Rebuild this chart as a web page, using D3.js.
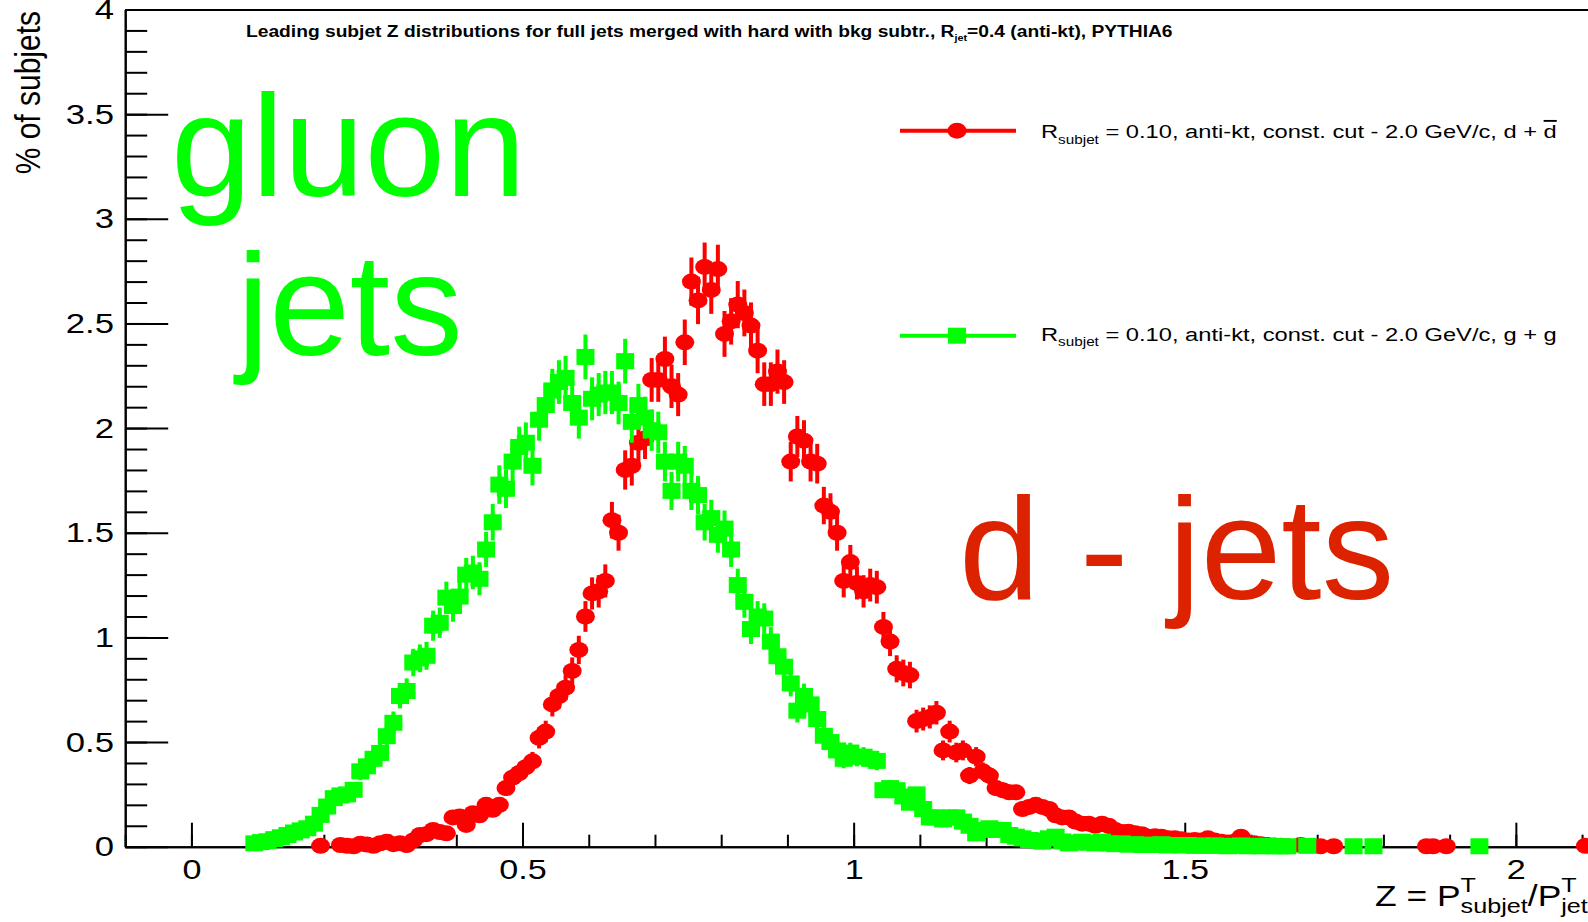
<!DOCTYPE html>
<html>
<head>
<meta charset="utf-8">
<script src="https://cdn.jsdelivr.net/npm/d3@7"></script>
<style>
  body { margin: 0; background: #fff; }
  svg { display: block; font-family: "Liberation Sans", Arial, sans-serif; }
  .axis path, .axis line { stroke: #000; stroke-width: 2; }
  .axis text { font-family: "Liberation Sans", Arial, sans-serif; fill: #000; }
</style>
</head>
<body>
<svg id="chart"></svg>
<script>
'use strict';

// histogram binning (bin width 0.01, values at bin centres)
var binWidth = 0.01;
var dFirst = 0.195;   // first bin of the d + dbar histogram
var gFirst = 0.095;   // first bin of the g + g histogram

// % of subjets per bin, d + dbar (red circles); null = empty bin
var dValues = [
  0.004, null, null, 0.008, 0.004, 0.002, 0.014, 0.010, 0.004, 0.016,
  0.024, 0.012, 0.016, 0.008, 0.030, 0.056, 0.060, 0.080, 0.070, 0.064,
  0.140, 0.144, 0.104, 0.160, 0.150, 0.200, 0.176, 0.200, 0.280, 0.330,
  0.352, 0.380, 0.408, 0.520, 0.550, 0.680, 0.720, 0.760, 0.840, 0.940,
  1.100, 1.210, 1.220, 1.270, 1.560, 1.500, 1.800, 1.820, 1.930, 1.950,
  2.230, 2.230, 2.330, 2.200, 2.160, 2.410, 2.700, 2.610, 2.770, 2.660,
  2.760, 2.450, 2.510, 2.590, 2.550, 2.490, 2.370, 2.210, 2.210, 2.270,
  2.220, 1.840, 1.960, 1.940, 1.840, 1.830, 1.630, 1.600, 1.500, 1.270,
  1.360, 1.260, 1.220, 1.250, 1.240, 1.050, 0.980, 0.850, 0.830, 0.820,
  0.600, 0.610, 0.620, 0.640, 0.460, 0.550, 0.450, 0.460, 0.340, 0.430,
  0.360, 0.340, 0.280, 0.270, 0.260, 0.260, 0.180, 0.190, 0.200, 0.190,
  0.180, 0.150, 0.140, 0.140, 0.120, 0.110, 0.110, 0.100, 0.110, 0.100,
  0.080, 0.070, 0.072, 0.064, 0.060, 0.048, 0.050, 0.048, 0.040, 0.040,
  0.035, 0.030, 0.032, 0.030, 0.040, 0.030, 0.024, 0.020, 0.024, 0.048,
  0.020, 0.016, 0.012, 0.008, 0.006, 0.004, 0.002, null, 0.008, null,
  null, 0.002, null, 0.002, null, null, null, null, null, null,
  null, null, null, null, null, null, null, 0.002, 0.002, null,
  0.002, null, null, null, null, null, null, null, null, null,
  null, null, null, null, null, null, null, null, null, null,
  null, 0.004
];

// % of subjets per bin, g + g (green squares); null = empty bin
var gValues = [
  0.016, 0.022, 0.026, 0.036, 0.045, 0.056, 0.068, 0.078, 0.088, 0.110,
  0.152, 0.192, 0.232, 0.245, 0.250, 0.272, 0.360, 0.384, 0.420, 0.448,
  0.528, 0.592, 0.720, 0.744, 0.880, 0.900, 0.912, 1.056, 1.070, 1.190,
  1.150, 1.195, 1.300, 1.310, 1.280, 1.420, 1.550, 1.730, 1.710, 1.840,
  1.910, 1.930, 1.820, 2.040, 2.110, 2.180, 2.220, 2.240, 2.120, 2.050,
  2.340, 2.140, 2.160, 2.170, 2.170, 2.120, 2.320, 2.030, 2.110, 2.050,
  1.990, 1.980, 1.840, 1.700, 1.840, 1.820, 1.700, 1.680, 1.550, 1.570,
  1.490, 1.520, 1.420, 1.250, 1.170, 1.040, 1.100, 1.090, 0.980, 0.910,
  0.860, 0.780, 0.650, 0.720, 0.680, 0.610, 0.530, 0.500, 0.460, 0.420,
  0.450, 0.430, 0.430, 0.420, 0.410, 0.270, 0.280, 0.270, 0.240, 0.210,
  0.250, 0.180, 0.140, 0.140, 0.130, 0.140, 0.140, 0.120, 0.100, 0.064,
  0.080, 0.088, 0.080, 0.080, 0.056, 0.048, 0.040, 0.032, 0.030, 0.024,
  0.040, 0.048, 0.025, 0.016, 0.020, 0.024, 0.020, 0.016, 0.024, 0.016,
  0.012, 0.016, 0.010, 0.012, 0.008, 0.010, 0.008, 0.012, 0.006, 0.008,
  0.006, 0.008, 0.004, 0.006, 0.004, 0.006, 0.004, 0.002, 0.004, 0.006,
  0.002, 0.004, 0.002, 0.004, 0.002, 0.002, 0.002, null, null, 0.004,
  null, null, null, null, null, null, 0.002, null, null, 0.002,
  null, null, null, null, null, null, null, null, null, null,
  null, null, null, null, null, 0.002
];

// error bar half length: about 0.07 * sqrt(value)
var errPerSqrt = 0.07;

var xTicks = [0, 0.5, 1, 1.5, 2];
var yTicks = [0, 0.5, 1, 1.5, 2, 2.5, 3, 3.5, 4];

var titleParts = ['Leading subjet Z distributions for full jets merged with hard with bkg subtr., R', 'jet', '=0.4 (anti-kt), PYTHIA6'];
var legendD = ['R', 'subjet', ' = 0.10, anti-kt, const. cut - 2.0 GeV/c, d + ', 'd'];
var legendG = ['R', 'subjet', ' = 0.10, anti-kt, const. cut - 2.0 GeV/c, g + g'];

var red = '#ff0000', green = '#00ff00', dark = '#dd2200';

// canvas
var W = 1588, H = 922;
var svg = d3.select('#chart').attr('width', W).attr('height', H);

var x = d3.scaleLinear().domain([-0.1, 2.11]).range([125.2, 1588.7]);
var y = d3.scaleLinear().domain([0, 4]).range([846.7, 9.5]);

function toPoints(first, vals) {
  return vals.map(function(v, i) { return { x: +(first + i * binWidth).toFixed(3), y: v }; })
             .filter(function(d) { return d.y !== null; });
}
var dPts = toPoints(dFirst, dValues);
var gPts = toPoints(gFirst, gValues);

// top frame line
svg.append('line')
  .attr('x1', x(-0.1)).attr('x2', W)
  .attr('y1', y(4) + 0.5).attr('y2', y(4) + 0.5)
  .attr('stroke', '#000').attr('stroke-width', 2);

// y axis (ticks point inward)
var yMinor = d3.range(0, 41).map(function(i) { return i / 10; });
svg.append('g').attr('class', 'axis')
  .attr('transform', 'translate(' + x(-0.1) + ',0)')
  .call(d3.axisLeft(y).tickValues(yMinor).tickSizeInner(-22).tickSizeOuter(0).tickFormat(''));
var yAx = svg.append('g').attr('class', 'axis')
  .attr('transform', 'translate(' + x(-0.1) + ',0)')
  .call(d3.axisLeft(y).tickValues(yTicks).tickSizeInner(-43).tickSizeOuter(0)
    .tickPadding(9).tickFormat(d3.format('')));
yAx.selectAll('text').style('font-size', '28px').attr('transform', 'scale(1.24,1)');

// x axis
var xMinor = d3.range(-1, 22).map(function(i) { return i / 10; });
svg.append('g').attr('class', 'axis')
  .attr('transform', 'translate(0,' + y(0) + ')')
  .call(d3.axisBottom(x).tickValues(xMinor).tickSizeInner(-12).tickSizeOuter(0).tickFormat(''));
var xAx = svg.append('g').attr('class', 'axis')
  .attr('transform', 'translate(0,' + y(0) + ')')
  .call(d3.axisBottom(x).tickValues(xTicks).tickSizeInner(-24).tickSizeOuter(0)
    .tickPadding(12).tickFormat(d3.format('')));
xAx.selectAll('text').style('font-size', '28px').attr('transform', 'scale(1.22,1)');

// histograms with error bars
function drawSeries(pts, color, marker) {
  var g = svg.append('g');
  function err(d) { return errPerSqrt * Math.sqrt(d.y); }
  g.selectAll('rect.err').data(pts).join('rect').attr('class', 'err')
    .attr('x', function(d) { return x(d.x) - 2; })
    .attr('width', 4)
    .attr('y', function(d) { return y(d.y + err(d)); })
    .attr('height', function(d) { return y(d.y - err(d)) - y(d.y + err(d)); })
    .attr('fill', color);
  if (marker === 'circle') {
    g.selectAll('ellipse').data(pts).join('ellipse')
      .attr('cx', function(d) { return x(d.x); })
      .attr('cy', function(d) { return y(d.y); })
      .attr('rx', 9.5).attr('ry', 8)
      .attr('fill', color);
  } else {
    g.selectAll('rect.mk').data(pts).join('rect').attr('class', 'mk')
      .attr('x', function(d) { return x(d.x) - 9; })
      .attr('y', function(d) { return y(d.y) - 8; })
      .attr('width', 18).attr('height', 16)
      .attr('fill', color);
  }
}
drawSeries(dPts, red, 'circle');
drawSeries(gPts, green, 'square');

// text with a subscript, squeezed/stretched to a target width
function subText(x0, base, size, subSize, parts, targetW, weight) {
  var g = svg.append('g');
  var t = g.append('text').attr('x', 0).attr('y', 0)
    .style('font-size', size + 'px').style('font-weight', weight || 'normal');
  t.append('tspan').text(parts[0]);
  t.append('tspan').attr('dy', subSize * 0.45).style('font-size', subSize + 'px').text(parts[1]);
  t.append('tspan').attr('dy', -subSize * 0.45).text(parts[2]);
  if (parts[3]) t.append('tspan').style('text-decoration', 'overline').text(parts[3]);
  var w = t.node().getComputedTextLength();
  g.attr('transform', 'translate(' + x0 + ',' + base + ') scale(' + (targetW / w) + ',1)');
  return g;
}

// title
subText(246, 36.5, 16, 9, titleParts, 927, 'bold');

// legend
svg.append('line').attr('x1', 900).attr('x2', 1016).attr('y1', 130.7).attr('y2', 130.7)
  .attr('stroke', red).attr('stroke-width', 4);
svg.append('ellipse').attr('cx', 957).attr('cy', 130.7).attr('rx', 9.5).attr('ry', 8).attr('fill', red);
subText(1041, 138.3, 18.6, 12, legendD, 516);

svg.append('line').attr('x1', 900).attr('x2', 1016).attr('y1', 335.7).attr('y2', 335.7)
  .attr('stroke', green).attr('stroke-width', 4);
svg.append('rect').attr('x', 948).attr('y', 327.7).attr('width', 18).attr('height', 16).attr('fill', green);
subText(1041, 341, 18.6, 12, legendG, 516);

// y axis title
svg.append('text')
  .attr('transform', 'translate(40,11) scale(1.18,1) rotate(-90)')
  .attr('text-anchor', 'end')
  .style('font-size', '30px')
  .text('% of subjets');

// x axis title: Z = P^T_subjet / P^T_jet
(function() {
  var sx = 1.2, size = 29.5, small = 21;
  var g = svg.append('g').attr('transform', 'translate(1375,906) scale(' + sx + ',1)');
  var parts = [{ t: 'Z = P' }, { sup: 'T', sub: 'subjet' }, { t: '/P' }, { sup: 'T', sub: 'jet' }];
  var cur = 0;
  parts.forEach(function(p) {
    if (p.t) {
      var t = g.append('text').attr('x', cur).attr('y', 0).style('font-size', size + 'px').text(p.t);
      cur += t.node().getComputedTextLength();
    } else {
      var a = g.append('text').attr('x', cur).attr('y', -14).style('font-size', small + 'px').text(p.sup);
      var b = g.append('text').attr('x', cur).attr('y', 7).style('font-size', small + 'px').text(p.sub);
      cur += Math.max(a.node().getComputedTextLength(), b.node().getComputedTextLength());
    }
  });
})();

// big annotations
svg.append('text').attr('transform', 'translate(171,196)')
  .attr('fill', green).style('font-size', '145px').text('gluon');
svg.append('text').attr('transform', 'translate(237,355)')
  .attr('fill', green).style('font-size', '145px').text('jets');
svg.append('text').attr('transform', 'translate(959,599)')
  .attr('fill', dark).style('font-size', '145px').text('d - jets');
</script>
</body>
</html>
